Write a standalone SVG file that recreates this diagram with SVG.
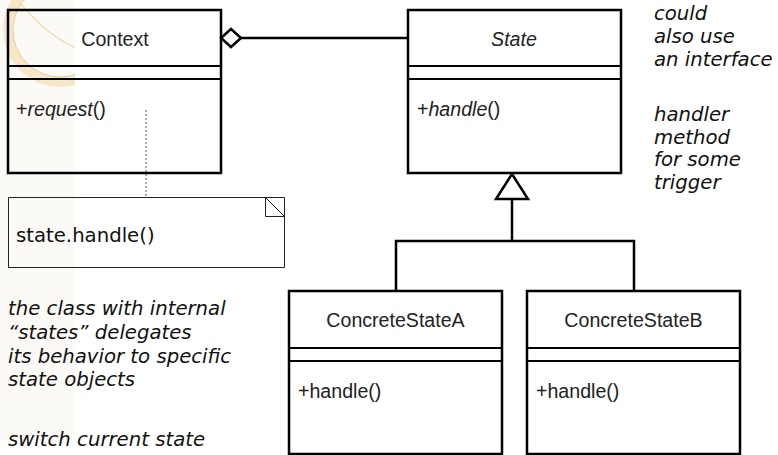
<svg xmlns="http://www.w3.org/2000/svg" width="778" height="455" viewBox="0 0 778 455">
<defs>
<style>
.cls{fill:none;stroke:#000;stroke-width:2.5}
.div{stroke:#000;stroke-width:2.2}
.name{font-family:"Liberation Sans",Arial,sans-serif;font-size:19.6px;fill:#222;text-anchor:middle}
.op{font-family:"Liberation Sans",Arial,sans-serif;font-size:19.6px;fill:#222}
.note{font-family:"DejaVu Sans",Verdana,sans-serif;font-size:19.7px;font-style:italic;fill:#111}
.conn{fill:none;stroke:#000;stroke-width:2.5}
</style>
<clipPath id="strip"><rect x="0" y="0" width="75" height="455"/></clipPath>
</defs>
<rect width="778" height="455" fill="#fff"/>
<g id="watermark" clip-path="url(#strip)">
<rect x="0" y="0" width="75" height="440" fill="#fcfaf6"/>
<path d="M60,-27 a57,57 0 1,0 0.01,0 Z M60,-17 a47,47 0 1,1 -0.01,0 Z" fill="#f3e2bd" fill-rule="evenodd" opacity="0.8"/>
<circle cx="60" cy="30" r="47" fill="none" stroke="#e6cf9c" stroke-width="1"/>
<path d="M18,0 Q45,35 80,50" fill="none" stroke="#f1dfb8" stroke-width="1.5"/>
</g>
<g id="connectors">
<line x1="241" y1="38" x2="408" y2="38" class="conn"/>
<polygon points="221,38 231,29 241,38 231,47" fill="#fff" stroke="#000" stroke-width="2.5"/>
<line x1="146" y1="110" x2="146" y2="197" stroke="#555" stroke-width="1" stroke-dasharray="2,2"/>
<polyline points="396,291 396,241 634,241 634,291" class="conn"/>
<line x1="512" y1="199" x2="512" y2="241" class="conn"/>
<polygon points="512,174 496,199 528,199" fill="#fff" stroke="#000" stroke-width="2.5"/>
</g>
<g id="Context">
<rect x="8" y="10" width="213" height="163" class="cls"/>
<line x1="8" y1="66" x2="221" y2="66" class="div"/>
<line x1="8" y1="79" x2="221" y2="79" class="div"/>
<text x="115" y="46" class="name">Context</text>
<text x="16" y="116" class="op">+<tspan font-style="italic">request</tspan>()</text>
</g>
<g id="State">
<rect x="408" y="10" width="213" height="163" class="cls"/>
<line x1="408" y1="66" x2="621" y2="66" class="div"/>
<line x1="408" y1="79" x2="621" y2="79" class="div"/>
<text x="514" y="46" class="name" font-style="italic">State</text>
<text x="417" y="116" class="op">+<tspan font-style="italic">handle</tspan>()</text>
</g>
<g id="ConcreteStateA">
<rect x="289" y="291" width="213" height="163" class="cls"/>
<line x1="289" y1="348" x2="502" y2="348" class="div"/>
<line x1="289" y1="361" x2="502" y2="361" class="div"/>
<text x="395.5" y="327" class="name">ConcreteStateA</text>
<text x="298" y="398" class="op">+handle()</text>
</g>
<g id="ConcreteStateB">
<rect x="527" y="291" width="213" height="163" class="cls"/>
<line x1="527" y1="348" x2="740" y2="348" class="div"/>
<line x1="527" y1="361" x2="740" y2="361" class="div"/>
<text x="633.5" y="327" class="name">ConcreteStateB</text>
<text x="536" y="398" class="op">+handle()</text>
</g>
<g id="note">
<path d="M8.5,197.5 H284.5 V267.5 H8.5 Z" fill="none" stroke="#222" stroke-width="1"/>
<path d="M265.5,197.5 V216.5 H284.5 M265.5,197.5 L284.5,216.5" fill="none" stroke="#222" stroke-width="1"/>
<text x="16" y="242" font-family="'DejaVu Sans',Verdana,sans-serif" font-size="19.7px" fill="#111">state.handle()</text>
</g>
<g id="notes">
<text class="note"><tspan x="654" y="20">could</tspan><tspan x="654" y="43">also use</tspan><tspan x="654" y="66">an interface</tspan></text>
<text class="note"><tspan x="654" y="121">handler</tspan><tspan x="654" y="144">method</tspan><tspan x="654" y="166">for some</tspan><tspan x="654" y="189">trigger</tspan></text>
<text class="note"><tspan x="8" y="315">the class with internal</tspan><tspan x="8" y="339">“states” delegates</tspan><tspan x="8" y="363">its behavior to specific</tspan><tspan x="8" y="386">state objects</tspan></text>
<text class="note" x="8" y="446">switch current state</text>
</g>
</svg>
